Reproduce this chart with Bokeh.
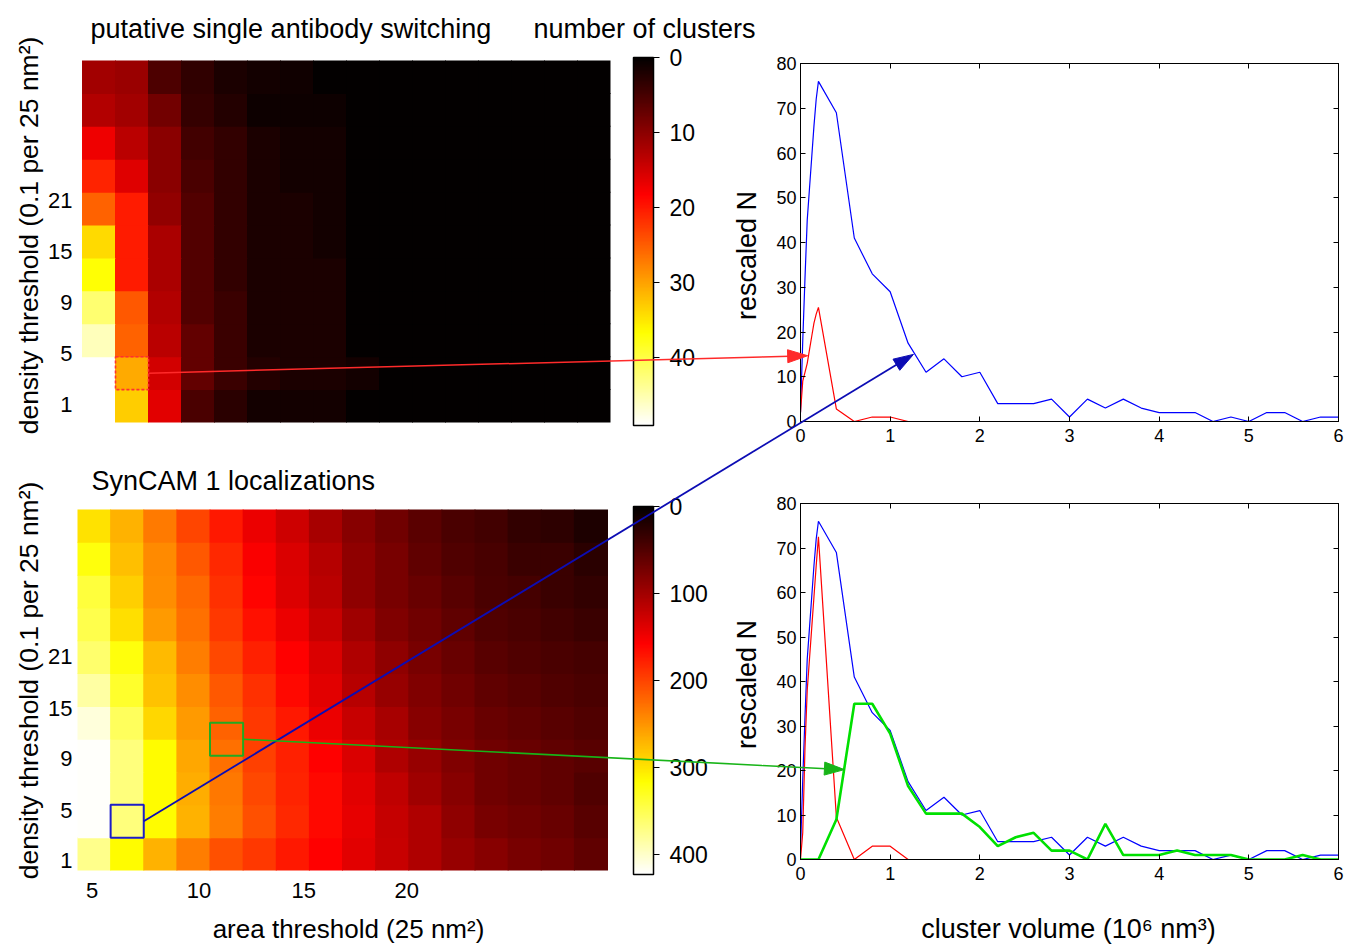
import math
from bokeh.plotting import figure
from bokeh.models import (ColumnDataSource, LinearColorMapper, ColorBar, FixedTicker,
                          Range1d, LinearAxis, CustomJSTickFormatter)
from bokeh.layouts import column, row
from bokeh.embed import file_html
from bokeh.resources import INLINE
from bokeh.core.properties import value

FONT = "Liberation Sans"

# ------------------------------------------------------------------ data
# heat maps: rows listed from density row 1 (bottom) to row 11 (top); 16 area columns
single_antibody = [
    [None, 33.1, 16.1, 5.3, 3.0, 1.2, 1.2, 1.2, 0, 0, 0, 0, 0, 0, 0, 0],
    [None, 30.6, 15.0, 6.9, 4.2, 2.3, 1.9, 1.9, 1.2, 0, 0, 0, 0, 0, 0, 0],
    [45.6, 25.3, 13.3, 6.9, 4.2, 1.9, 1.9, 1.9, 0, 0, 0, 0, 0, 0, 0, 0],
    [42.1, 24.5, 12.7, 5.8, 4.2, 1.9, 1.9, 1.9, 0, 0, 0, 0, 0, 0, 0, 0],
    [36.8, 20.2, 12.1, 5.8, 3.5, 1.9, 1.9, 1.9, 0, 0, 0, 0, 0, 0, 0, 0],
    [33.9, 20.2, 12.1, 5.8, 3.5, 1.9, 1.9, 1.2, 0, 0, 0, 0, 0, 0, 0, 0],
    [25.3, 20.2, 10.4, 5.8, 3.5, 1.9, 1.9, 1.2, 0, 0, 0, 0, 0, 0, 0, 0],
    [20.7, 16.0, 9.8, 5.3, 3.5, 1.9, 1.2, 1.2, 0, 0, 0, 0, 0, 0, 0, 0],
    [17.1, 13.3, 9.8, 4.6, 3.5, 1.9, 1.2, 1.2, 0, 0, 0, 0, 0, 0, 0, 0],
    [12.7, 11.5, 8.1, 3.7, 2.3, 0.9, 0.9, 0.9, 0, 0, 0, 0, 0, 0, 0, 0],
    [11.5, 11.1, 5.5, 3.3, 1.9, 1.2, 1.1, 0, 0, 0, 0, 0, 0, 0, 0, 0],
]
syncam_locs = [
    [374, 315, 268, 236, 207, 192, 172, 158, 139, 123, 109, 94, 84, 74, 69, 59],
    [420, 368, 315, 268, 236, 207, 182, 162, 143, 121, 109, 89, 74, 69, 64, 54],
    [420, 368, 315, 266, 232, 202, 180, 162, 139, 118, 99, 84, 69, 64, 59, 49],
    [420, 368, 315, 262, 227, 197, 177, 158, 134, 109, 94, 79, 69, 64, 59, 54],
    [407, 355, 291, 254, 219, 192, 172, 147, 123, 104, 84, 74, 64, 59, 54, 49],
    [384, 335, 279, 246, 212, 187, 162, 139, 114, 94, 79, 69, 59, 54, 49, 46],
    [361, 321, 273, 236, 203, 177, 158, 134, 109, 89, 74, 64, 54, 49, 46, 42],
    [348, 296, 254, 227, 192, 167, 147, 123, 99, 79, 69, 59, 49, 46, 41, 35],
    [341, 286, 246, 222, 187, 160, 137, 115, 89, 74, 64, 54, 46, 42, 36, 30],
    [321, 277, 243, 212, 182, 154, 134, 111, 89, 74, 59, 49, 44, 36, 35, 26],
    [299, 268, 233, 200, 172, 147, 126, 104, 84, 69, 56, 46, 41, 31, 28, 17],
]
clusters_max = 49
locs_max = 423
cb_ticks_clusters = [0, 10, 20, 30, 40]
cb_ticks_locs = [0, 100, 200, 300, 400]

dens_tick_labels = ["1", "5", "9", "15", "21"]
dens_tick_pos_top = [1.05, 2.6, 4.15, 5.7, 7.25]
dens_tick_pos_bot = [0.8, 2.33, 3.9, 5.44, 7.02]
area_tick_labels = ["5", "10", "15", "20"]
area_tick_pos = [0.94, 4.17, 7.33, 10.44]

# highlighted cells (area column, density row) in heat-map coordinates
red_cell = (2, 2)
blue_cell = (2, 2)
green_cell = (5, 4.5)

# cluster-volume histograms (10^6 nm^3)
volume = [0, 0.025, 0.05, 0.075, 0.1, 0.125, 0.15, 0.175,
          0.2, 0.4, 0.6, 0.8, 1.0, 1.2, 1.4, 1.6, 1.8, 2.0, 2.2, 2.4, 2.6, 2.8, 3.0,
          3.2, 3.4, 3.6, 3.8, 4.0, 4.2, 4.4, 4.6, 4.8, 5.0, 5.2, 5.4, 5.6, 5.8, 6.0]
all_N = [2, 18, 32, 45, 52, 59, 66, 72,
         76, 69, 41, 33, 29, 17.5, 11, 14, 10, 11, 4, 4, 4, 5, 1,
         5, 3, 5, 3, 2, 2, 2, 0, 1, 0, 2, 2, 0, 1, 1]
single_N = [2, 9, 11, 13, 16, 19, 22, 24,
            25.5, 2.8, 0, 1, 1, 0, 0, 0, 0, 0, 0, 0, 0, 0, 0,
            0, 0, 0, 0, 0, 0, 0, 0, 0, 0, 0, 0, 0, 0, 0]
single2_N = [0, 6, 25, 38, 45, 52, 59, 66,
             72.5, 9.5, 0, 3, 3, 0, 0, 0, 0, 0, 0, 0, 0, 0, 0,
             0, 0, 0, 0, 0, 0, 0, 0, 0, 0, 0, 0, 0, 0, 0]
selected_N = [0, 0, 0, 0, 0, 0, 0, 0,
              0, 9, 35, 35, 28.3, 16.5, 10.3, 10.3, 10.3, 7.3, 3, 5, 6, 2, 2,
              0, 8, 1, 1, 1, 2, 1, 1, 1, 0, 0, 0, 1, 0, 0]

# arrow targets on the histograms (volume, rescaled N)
red_tip = (0.08, 14.7)
blue_tip = (1.26, 15.0)
green_tip = (0.49, 20.2)

# ------------------------------------------------------------------ layout (page px)
HEAT_X = (0.5, 16.5)
HEAT_Y = (0.5, 11.5)
LINE_X = (0, 6)
LINE_Y = (0, 80)
# canvas = (left, top, right, bottom); frame = (L, T, W, H); box = area the data ranges span
PANELS = {
    "A": dict(canvas=(0, 0, 762, 452), frame=(77, 60, 533, 362), box=(82, 60, 528, 362),
              xr=HEAT_X, yr=HEAT_Y),
    "C": dict(canvas=(0, 452, 762, 945), frame=(77, 509, 533, 361), box=(77, 509, 530, 361),
              xr=HEAT_X, yr=HEAT_Y),
    "B": dict(canvas=(762, 0, 1344, 452), frame=(800, 63, 538, 358), box=(800, 63, 538, 358),
              xr=LINE_X, yr=LINE_Y),
    "D": dict(canvas=(762, 452, 1344, 945), frame=(800, 503, 538, 356), box=(800, 503, 538, 356),
              xr=LINE_X, yr=LINE_Y),
}


def hot(n=256):
    k = int(3 * n / 8)
    out = []
    for i in range(n):
        r = min(1.0, (i + 1) / k)
        g = min(1.0, max(0.0, (i + 1 - k) / k))
        b = min(1.0, max(0.0, (i + 1 - 2 * k) / (n - 2 * k)))
        out.append('#%02x%02x%02x' % (round(r * 255), round(g * 255), round(b * 255)))
    return out


PAL = hot()[::-1]


def make_fig(key):
    P = PANELS[key]
    cl, ct, cr, cb = P["canvas"]
    fL, fT, fW, fH = P["frame"]
    bL, bT, bW, bH = P["box"]
    x0, x1 = P["xr"]
    y0, y1 = P["yr"]
    sx = (x1 - x0) / bW
    sy = (y1 - y0) / bH
    xr = Range1d(x0 + (fL - bL) * sx, x0 + (fL + fW - bL) * sx)
    yr = Range1d(y0 - (fT + fH - bT - bH) * sy, y1 + (bT - fT) * sy)
    p = figure(frame_width=fW, frame_height=fH,
               min_border_left=fL - cl, min_border_right=cr - fL - fW,
               min_border_top=fT - ct, min_border_bottom=cb - fT - fH,
               x_range=xr, y_range=yr,
               output_backend="svg", toolbar_location=None, tools="")
    p.title = None
    p.extra_x_ranges = {"px": Range1d(fL, fL + fW)}
    p.extra_y_ranges = {"py": Range1d(fT + fH, fT)}
    p.grid.visible = False
    p.background_fill_color = "white"
    p.border_fill_color = "white"
    return p


def to_page(key, x, y):
    P = PANELS[key]
    bL, bT, bW, bH = P["box"]
    x0, x1 = P["xr"]
    y0, y1 = P["yr"]
    return bL + (x - x0) / (x1 - x0) * bW, bT + (y1 - y) / (y1 - y0) * bH


def label(p, x, y, text, size="27px", align="left", angle=0.0):
    p.text(x=[x], y=[y], text=[text], x_range_name="px", y_range_name="py", level="overlay",
           text_font=value(FONT), text_font_size=value(size), text_align=align,
           text_baseline="middle", angle=angle, text_color="black")


def heat_fig(key, grid, vmax, ticks, tick_pos):
    p = make_fig(key)
    mapper = LinearColorMapper(palette=PAL, low=vmax, high=0, nan_color="white")
    xs, ys, vs = [], [], []
    for r, rowvals in enumerate(grid):
        for c, v in enumerate(rowvals):
            if v is None:
                continue
            xs.append(c + 1)
            ys.append(r + 1)
            vs.append(v)
    src = ColumnDataSource(dict(x=xs, y=ys, v=vs))
    p.rect('x', 'y', 1.03, 1.03, source=src,
           fill_color={'field': 'v', 'transform': mapper}, line_color=None)
    p.outline_line_color = None
    p.yaxis.ticker = FixedTicker(ticks=tick_pos)
    p.yaxis.major_label_overrides = {t: s for t, s in zip(tick_pos, dens_tick_labels)}
    for ax in p.axis:
        ax.axis_line_color = None
        ax.major_tick_line_color = None
        ax.major_tick_out = 0
        ax.major_tick_in = 0
        ax.minor_tick_line_color = None
        ax.major_label_text_font = FONT
        ax.major_label_text_font_size = "22px"
        ax.major_label_text_color = "black"
    p.yaxis.major_label_standoff = 5
    cb = ColorBar(color_mapper=mapper, ticker=FixedTicker(ticks=ticks), width=20, height=368,
                  margin=0, padding=23, location="center_left",
                  major_tick_in=0, major_tick_out=6, major_tick_line_color="black",
                  minor_tick_line_color=None,
                  bar_line_color="black", bar_line_width=1.5,
                  major_label_text_font=FONT, major_label_text_font_size="23px",
                  major_label_text_color="black",
                  label_standoff=10, background_fill_color=None, border_line_color=None)
    p.add_layout(cb, "right")
    return p


def box_axis(ticks):
    # tick marks only (MATLAB-style box ticks on the top and right edges)
    return LinearAxis(ticker=FixedTicker(ticks=ticks),
                      formatter=CustomJSTickFormatter(code="return ''"),
                      major_label_text_font_size="0px", major_label_standoff=0,
                      axis_label_standoff=0)


def line_fig(key):
    p = make_fig(key)
    p.outline_line_color = "black"
    p.outline_line_width = 1
    xt = [0, 1, 2, 3, 4, 5, 6]
    yt = [0, 10, 20, 30, 40, 50, 60, 70, 80]
    xb = p.below[0]
    yl = p.left[0]
    xb.ticker = FixedTicker(ticks=xt)
    yl.ticker = FixedTicker(ticks=yt)
    p.add_layout(box_axis(xt), "above")
    p.add_layout(box_axis(yt), "right")
    for ax in p.axis:
        ax.major_tick_in = 5
        ax.major_tick_out = 0
        ax.minor_tick_line_color = None
        ax.major_tick_line_color = "black"
        ax.axis_line_color = "black"
    for ax in (xb, yl):
        ax.major_label_text_font = FONT
        ax.major_label_text_font_size = "18px"
        ax.major_label_text_color = "black"
    xb.major_label_standoff = 7
    yl.major_label_standoff = 4
    return p


# ------------------------------------------------------------------ panels
pA = heat_fig("A", single_antibody, clusters_max, cb_ticks_clusters, dens_tick_pos_top)
pA.xaxis.visible = False
pA.rect(x=[red_cell[0]], y=[red_cell[1]], width=1, height=1, fill_color=None,
        line_color="#ff3030", line_width=1.6, line_dash="3 2")

pC = heat_fig("C", syncam_locs, locs_max, cb_ticks_locs, dens_tick_pos_bot)
pC.xaxis.ticker = FixedTicker(ticks=area_tick_pos)
pC.xaxis.major_label_overrides = {t: s for t, s in zip(area_tick_pos, area_tick_labels)}
pC.xaxis.major_label_standoff = 12
pC.rect(x=[blue_cell[0]], y=[blue_cell[1]], width=1, height=1, fill_color=None,
        line_color="#1c1cc8", line_width=2)
pC.rect(x=[green_cell[0]], y=[green_cell[1]], width=1, height=1, fill_color=None,
        line_color="#22aa22", line_width=2)

pB = line_fig("B")
pB.line(volume, all_N, line_color="#0000ff", line_width=1.2)
pB.line(volume, single_N, line_color="#ff0000", line_width=1.2)

pD = line_fig("D")
pD.line(volume, all_N, line_color="#0000ff", line_width=1.2)
pD.line(volume, single2_N, line_color="#ff0000", line_width=1.2)
pD.line(volume, selected_N, line_color="#00e000", line_width=2.6)

figs = {"A": pA, "B": pB, "C": pC, "D": pD}

# ------------------------------------------------------------------ texts
label(pA, 90, 28, "putative single antibody switching")
label(pA, 533, 28, "number of clusters")
label(pA, 28, 235, "density threshold (0.1 per 25 nm\u00b2)", size="26.5px", align="center",
      angle=math.pi / 2)
label(pA, 746, 255, "rescaled N", align="center", angle=math.pi / 2)
label(pC, 91, 480, "SynCAM 1 localizations")
label(pC, 28, 680, "density threshold (0.1 per 25 nm\u00b2)", size="26.5px", align="center",
      angle=math.pi / 2)
label(pC, 746, 684, "rescaled N", align="center", angle=math.pi / 2)
label(pC, 348, 928, "area threshold (25 nm\u00b2)", size="26px", align="center")
label(pD, 1068, 928, "cluster volume (10\u2076 nm\u00b3)", align="center")


# ------------------------------------------------------------------ arrows
def clip_seg(x0, y0, x1, y1, xmin, ymin, xmax, ymax):
    dx, dy = x1 - x0, y1 - y0
    t0, t1 = 0.0, 1.0
    for pp, q in ((-dx, x0 - xmin), (dx, xmax - x0), (-dy, y0 - ymin), (dy, ymax - y0)):
        if pp == 0:
            if q < 0:
                return None
        else:
            t = q / pp
            if pp < 0:
                t0 = max(t0, t)
            else:
                t1 = min(t1, t)
    if t0 >= t1:
        return None
    return (x0 + t0 * dx, y0 + t0 * dy, x0 + t1 * dx, y0 + t1 * dy)


def arrow(start_key, start, end_key, tip, color, width, head_len=20, head_hw=6.5):
    sx, sy = to_page(start_key, *start)
    tx, ty = to_page(end_key, *tip)
    d = math.hypot(tx - sx, ty - sy)
    ux, uy = (tx - sx) / d, (ty - sy) / d
    bx, by = tx - ux * head_len, ty - uy * head_len
    for k, p in figs.items():
        cl, ct, cr, cb = PANELS[k]["canvas"]
        seg = clip_seg(sx, sy, bx + ux * 2, by + uy * 2, cl - 1, ct - 1, cr + 1, cb + 1)
        if seg is not None:
            p.line(x=[seg[0], seg[2]], y=[seg[1], seg[3]],
                   x_range_name="px", y_range_name="py", level="overlay",
                   line_color=color, line_width=width)
    hp = figs[end_key]
    hp.patch([tx, bx - uy * head_hw, bx + uy * head_hw], [ty, by + ux * head_hw, by - ux * head_hw],
             x_range_name="px", y_range_name="py", level="overlay",
             fill_color=color, line_color=color, line_width=1)


arrow("A", (red_cell[0] + 0.5, red_cell[1]), "B", red_tip, "#ff2a2a", 1.5)
arrow("C", (blue_cell[0] + 0.5, blue_cell[1]), "B", blue_tip, "#0c0cb4", 1.8)
arrow("C", (green_cell[0] + 0.5, green_cell[1]), "D", green_tip, "#18b418", 1.6)

layout = row(column(pA, pC), column(pB, pD))
open("out.html", "w").write(file_html(layout, INLINE))
